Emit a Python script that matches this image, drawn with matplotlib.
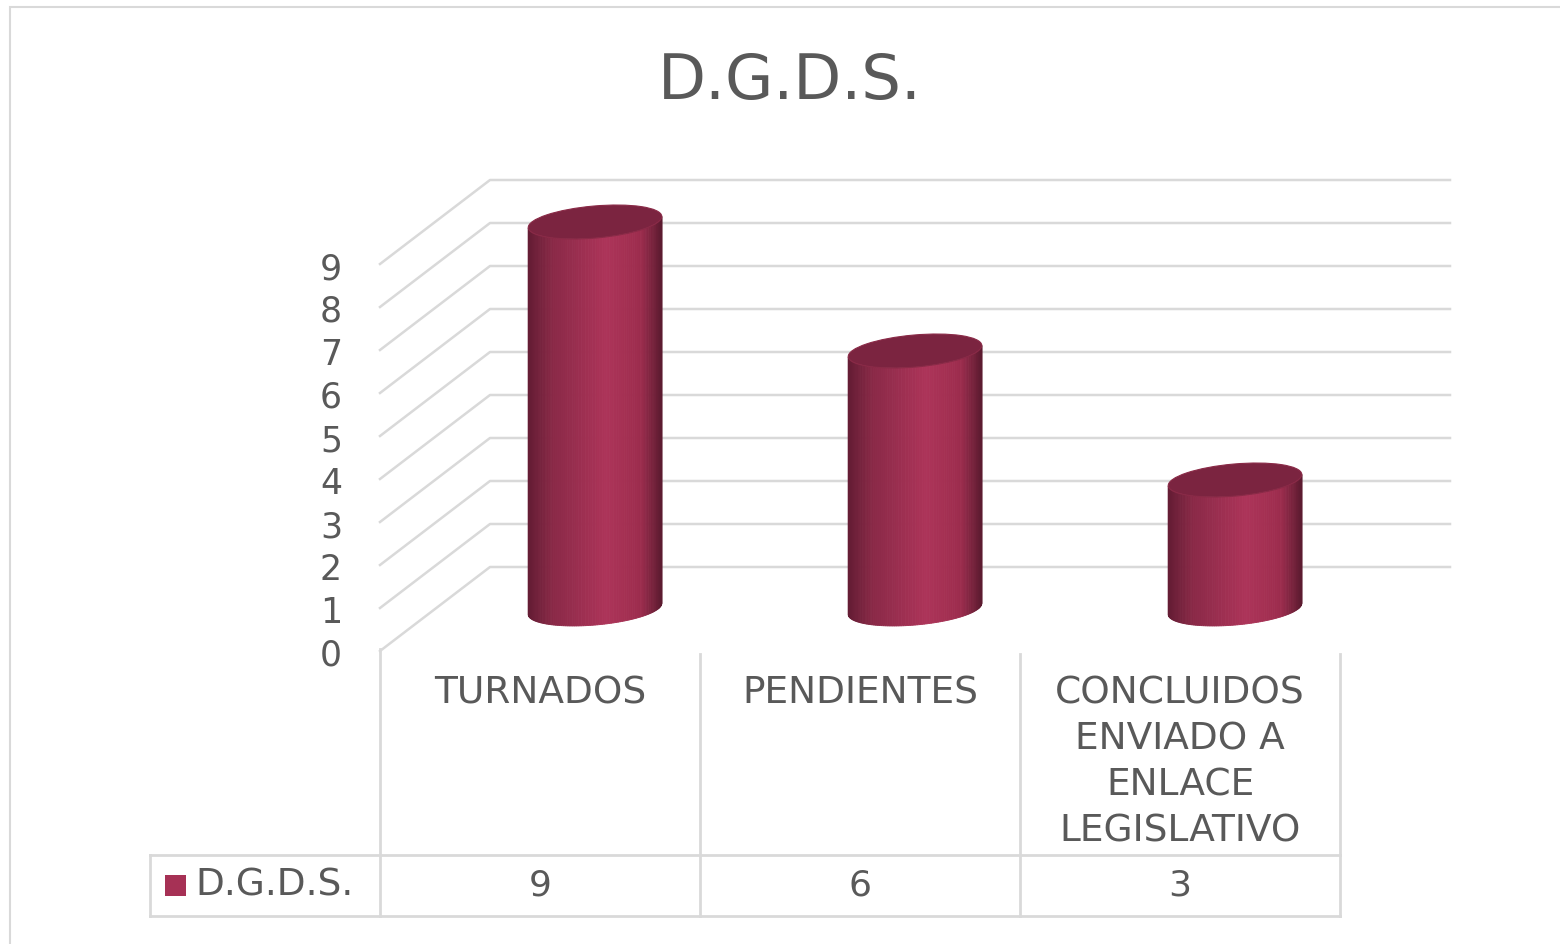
import numpy as np
import matplotlib
matplotlib.use("Agg")
import matplotlib.pyplot as plt
from matplotlib.patches import Polygon, Ellipse, Rectangle
from matplotlib.transforms import ScaledTranslation, IdentityTransform, blended_transform_factory
from matplotlib.colors import LinearSegmentedColormap

# -----------------------------
# Data
# -----------------------------
TITLE = "D.G.D.S."
SERIES = "D.G.D.S."
categories = ["TURNADOS", "PENDIENTES", "CONCLUIDOS\nENVIADO A\nENLACE\nLEGISLATIVO"]
values = [9, 6, 3]
y_ticks = list(range(0, 10))

# -----------------------------
# Style
# -----------------------------
TEXT = "#595959"
GRID = "#d9d9d9"
BAR = "#a63155"
TOP = "#7b2440"
shade = LinearSegmentedColormap.from_list(
    "cyl",
    [(0.0, "#641c34"), (0.18, "#8a2947"), (0.58, "#ad3459"), (0.84, "#9c2c4d"), (1.0, "#5c1b30")],
)

W, H = 1560, 945
fig = plt.figure(figsize=(W / 100, H / 100), dpi=100)


def fx(px):
    return px / W


def fy(py):
    return 1 - py / H


# front plane of the 3D box
ax = fig.add_axes([fx(380), fy(652), fx(1340) - fx(380), fy(265) - fy(652)])
ax.set_xlim(0, len(categories))
ax.set_ylim(0, max(y_ticks))
ax.set_autoscale_on(False)
ax.axis("off")

DEPTH = np.array([110.0, 84.0])  # px offset from front to back wall
PX = IdentityTransform()


def to_px(x, v, depth=0.0):
    return ax.transData.transform((x, v)) + depth * DEPTH


# gridlines: side wall diagonals + back wall
for v in y_ticks:
    f = to_px(0, v)
    b = to_px(0, v, 1)
    e = to_px(len(categories), v, 1)
    ax.plot([f[0], b[0], e[0]], [f[1], b[1], e[1]], color=GRID, lw=1.8,
            transform=PX, clip_on=False, zorder=1)
    ax.text(0, v, str(v), ha="right", va="center", fontsize=25, color=TEXT,
            transform=ax.transData + ScaledTranslation(-0.38, -0.04, fig.dpi_scale_trans))

# cylinders
A, B, TH = 67.0, 16.0, np.deg2rad(5)


def cylinder(xc, val):
    b0 = to_px(xc, 0, 0.5)
    b1 = to_px(xc, val, 0.5)
    t = np.linspace(np.pi, 2 * np.pi, 90)
    ex, ey = A * np.cos(t), B * np.sin(t)
    rx = ex * np.cos(TH) - ey * np.sin(TH)
    ry = ex * np.sin(TH) + ey * np.cos(TH)
    for i in range(len(t) - 1):
        p0 = np.array([rx[i], ry[i]])
        p1 = np.array([rx[i + 1], ry[i + 1]])
        quad = [b0 + p0, b0 + p1, b1 + p1, b1 + p0]
        u = (np.cos((t[i] + t[i + 1]) / 2) + 1) / 2
        c = shade(u)
        ax.add_patch(Polygon(quad, closed=True, facecolor=c, edgecolor=c, lw=0.6,
                             transform=PX, clip_on=False, zorder=3))
    ax.add_patch(Ellipse(b1, 2 * A, 2 * B, angle=np.rad2deg(TH), facecolor=TOP,
                         edgecolor="#8a2a47", lw=0.8, transform=PX, clip_on=False, zorder=4))


for i, v in enumerate(values):
    cylinder(i + 0.5, v)

# data table
tb = blended_transform_factory(ax.transData, fig.transFigure)
x_left = ax.transData.inverted().transform((fx(150) * W, 0))[0]
for i in range(len(categories) + 1):
    top = 650 if i == 0 else 655
    ax.plot([i, i], [fy(top), fy(917)], color=GRID, lw=2.0, transform=tb, clip_on=False)
for py in (856, 917):
    ax.plot([x_left, len(categories)], [fy(py), fy(py)], color=GRID, lw=2.0,
            transform=tb, clip_on=False)
ax.plot([x_left, x_left], [fy(856), fy(917)], color=GRID, lw=2.0, transform=tb, clip_on=False)

for i, (cat, v) in enumerate(zip(categories, values)):
    ax.text(i + 0.5, fy(675), cat, transform=tb, ha="center", va="top",
            fontsize=27, linespacing=1.36, color=TEXT)
    ax.text(i + 0.5, fy(886), str(v), transform=tb, ha="center", va="center",
            fontsize=26, color=TEXT)

fig.patches.append(Rectangle((fx(165), fy(897)), fx(186) - fx(165), fy(876) - fy(897),
                             transform=fig.transFigure, facecolor=BAR, edgecolor="none"))
fig.text(fx(195), fy(886), SERIES, ha="left", va="center", fontsize=27, color=TEXT)

# title
fig.text(fx(790), fy(82), TITLE, ha="center", va="center", fontsize=45, color=TEXT)

# outer chart frame
fig.patches.append(Rectangle((fx(10), -0.05), 1.1, fy(8) + 0.05, transform=fig.transFigure,
                             fill=False, edgecolor=GRID, lw=1.5))

fig.savefig("out.png", dpi=100)
